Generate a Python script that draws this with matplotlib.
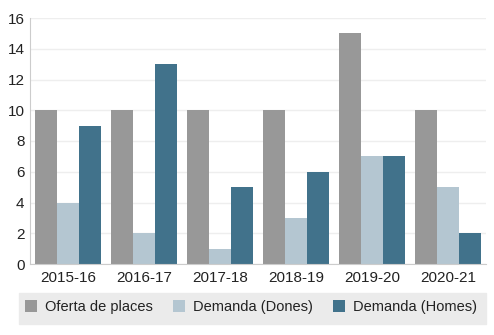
import matplotlib
matplotlib.use("Agg")
import matplotlib.pyplot as plt
import numpy as np

plt.rcParams["font.family"] = ["Liberation Sans", "DejaVu Sans"]

cursos = ["2015-16", "2016-17", "2017-18", "2018-19", "2019-20", "2020-21"]
oferta = [10, 10, 10, 10, 15, 10]
dones = [4, 2, 1, 3, 7, 5]
homes = [9, 13, 5, 6, 7, 2]

series = [
    ("Oferta de places", oferta, "#989898"),
    ("Demanda (Dones)", dones, "#b4c6d1"),
    ("Demanda (Homes)", homes, "#41728b"),
]

fig = plt.figure(figsize=(4.94, 3.35), dpi=100)
ax = fig.add_axes([30 / 494, 1 - 264 / 335, 456 / 494, 246 / 335])

x = np.arange(len(cursos))
w = 0.29
handles = []
for i, (nom, vals, col) in enumerate(series):
    b = ax.bar(x + (i - 1) * w, vals, width=w, color=col, label=nom, zorder=2)
    handles.append(b)

ax.set_xlim(-0.5, len(cursos) - 0.5)
ax.set_ylim(0, 16)
ax.set_yticks(range(0, 17, 2))
ax.set_xticks(x)
ax.set_xticklabels(cursos)
ax.tick_params(axis="both", length=0, labelsize=11, colors="#222222")
ax.tick_params(axis="x", pad=5)
ax.tick_params(axis="y", pad=4)
ax.grid(axis="y", color="#eeeeee", linewidth=1, zorder=0)
for s in ["top", "right"]:
    ax.spines[s].set_visible(False)
ax.spines["left"].set_color("#cccccc")
ax.spines["bottom"].set_color("#cccccc")

# fons gris de la llegenda
bg = plt.Rectangle((19 / 494, 1 - 324 / 335), 467 / 494, 31 / 335,
                   transform=fig.transFigure, color="#ebebeb", zorder=0)
fig.patches.append(bg)

fig.legend(handles=handles, loc="center", bbox_to_anchor=(251 / 494, 1 - 307 / 335),
           ncol=3, frameon=False, fontsize=10.5, handlelength=0.8, handleheight=0.8,
           handletextpad=0.55, columnspacing=1.4, labelcolor="#222222")

fig.savefig("out.png", dpi=100)
